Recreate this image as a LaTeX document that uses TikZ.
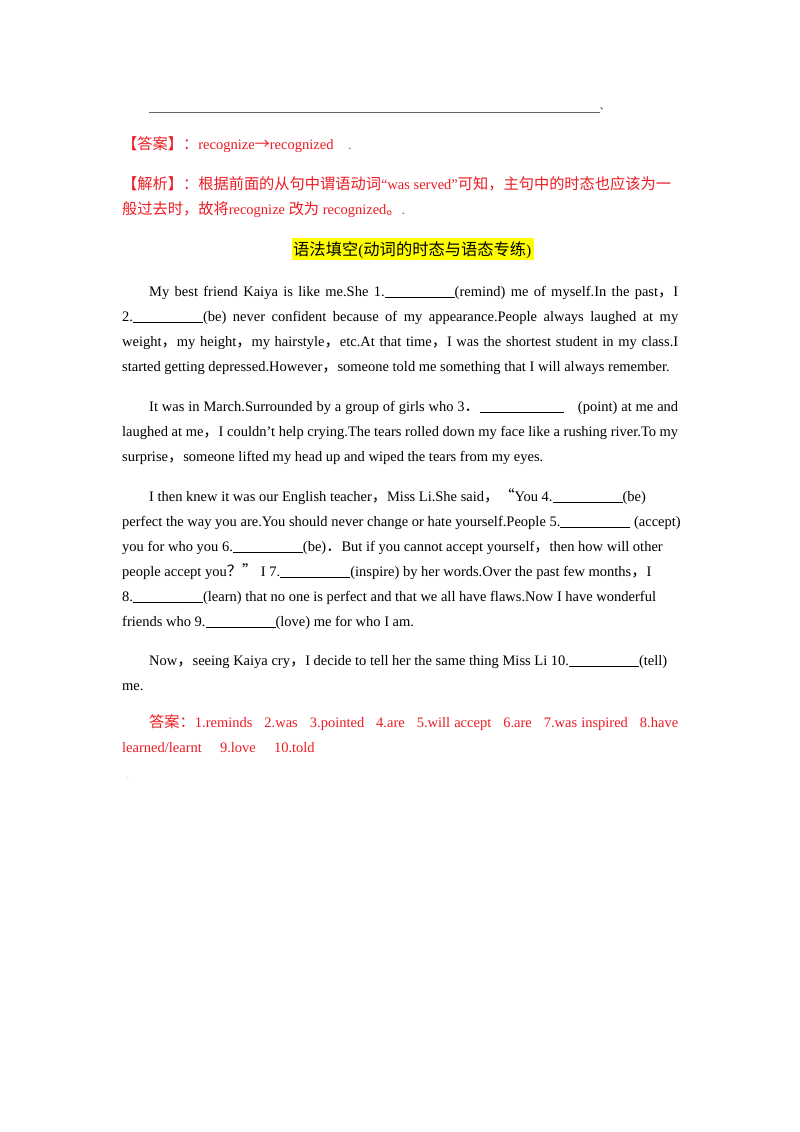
\documentclass[tikz,border=0pt]{standalone}
\usepackage{fontspec}
\setmainfont{Liberation Serif}
\newfontfamily\cjk[Scale=1.05]{Noto Sans CJK SC}
\definecolor{ansred}{RGB}{236,28,36}
\definecolor{hiyel}{RGB}{255,255,0}
\newcommand{\zh}[1]{{\cjk #1}}
\newcommand{\bl}{\underline{\hspace{70pt}}}
\begin{document}
\begin{tikzpicture}[x=1pt,y=-1pt,
  ln/.style={anchor=base west,inner sep=0pt,font=\fontsize{14.5}{17}\selectfont},
  red/.style={ln,text=ansred}]
\useasboundingbox (0,0) rectangle (800,1132);
\fill[white] (0,0) rectangle (800,1132);
\draw[gray!80!black,line width=0.8pt] (149,112) -- (600,112);
\node[ln,font=\fontsize{8}{8}\selectfont] (m0) at (600,109) {\zh{、}};
\node[red] (a1) at (122,149) {\zh{【答案】：}recognize\zh{→}recognized\quad\textcolor{gray}{.}};
\node[red] (j1) at (122,189) {\zh{【解析】：根据前面的从句中谓语动词}“was served”\zh{可知，主句中的时态也应该为一}};
\node[red] (j2) at (122,214) {\zh{般过去时，故将}recognize \zh{改为} recognized\zh{。}\textcolor{gray}{.}};
\fill[hiyel] (292,238) rectangle (534,260);
\node[ln,font=\fontsize{15.5}{18}\selectfont] (t) at (293,255) {\zh{语法填空}(\zh{动词的时态与语态专练})};
\node[ln] (p11) at (149,296) {\makebox[529pt][s]{My best friend Kaiya is like me.She 1.\bl(remind) me of myself.In the past\zh{，}I}};
\node[ln] (p12) at (122,321) {\makebox[556pt][s]{2.\bl(be) never confident because of my appearance.People always laughed at my}};
\node[ln] (p13) at (122,346) {\makebox[556pt][s]{weight\zh{，}my height\zh{，}my hairstyle\zh{，}etc.At that time\zh{，}I was the shortest student in my class.I}};
\node[ln] (p14) at (122,371) {started getting depressed.However\zh{，}someone told me something that I will always remember.};
\node[ln] (p21) at (149,411) {\makebox[529pt][s]{It was in March.Surrounded by a group of girls who 3\zh{．}\underline{\hspace{84pt}}\hspace{14pt}(point) at me and}};
\node[ln] (p22) at (122,436) {\makebox[556pt][s]{laughed at me\zh{，}I couldn't help crying.The tears rolled down my face like a rushing river.To my}};
\node[ln] (p23) at (122,461) {surprise\zh{，}someone lifted my head up and wiped the tears from my eyes.};
\node[ln] (p31) at (149,501) {I then knew it was our English teacher\zh{，}Miss Li.She said\zh{，“}You 4.\bl(be)};
\node[ln] (p32) at (122,526) {perfect the way you are.You should never change or hate yourself.People 5.\bl\ (accept)};
\node[ln] (p33) at (122,551) {you for who you 6.\bl(be)\zh{．}But if you cannot accept yourself\zh{，}then how will other};
\node[ln] (p34) at (122,576) {people accept you\zh{？”} I 7.\bl(inspire) by her words.Over the past few months\zh{，}I};
\node[ln] (p35) at (122,601) {8.\bl(learn) that no one is perfect and that we all have flaws.Now I have wonderful};
\node[ln] (p36) at (122,626) {friends who 9.\bl(love) me for who I am.};
\node[ln] (p41) at (149,665) {Now\zh{，}seeing Kaiya cry\zh{，}I decide to tell her the same thing Miss Li 10.\bl(tell)};
\node[ln] (p42) at (122,690) {me.};
\node[red] (k1) at (149,727) {\makebox[529pt][s]{\zh{答案：}1.reminds\ \ \ 2.was\ \ \ 3.pointed\ \ \ 4.are\ \ \ 5.will accept\ \ \ 6.are\ \ \ 7.was inspired\ \ \ 8.have}};
\node[red] (k2) at (122,752) {learned/learnt\quad\ 9.love\quad\ 10.told};
\node[ln,text=gray,font=\fontsize{6}{6}\selectfont] (d) at (127,778) {.};
\end{tikzpicture}
\end{document}
